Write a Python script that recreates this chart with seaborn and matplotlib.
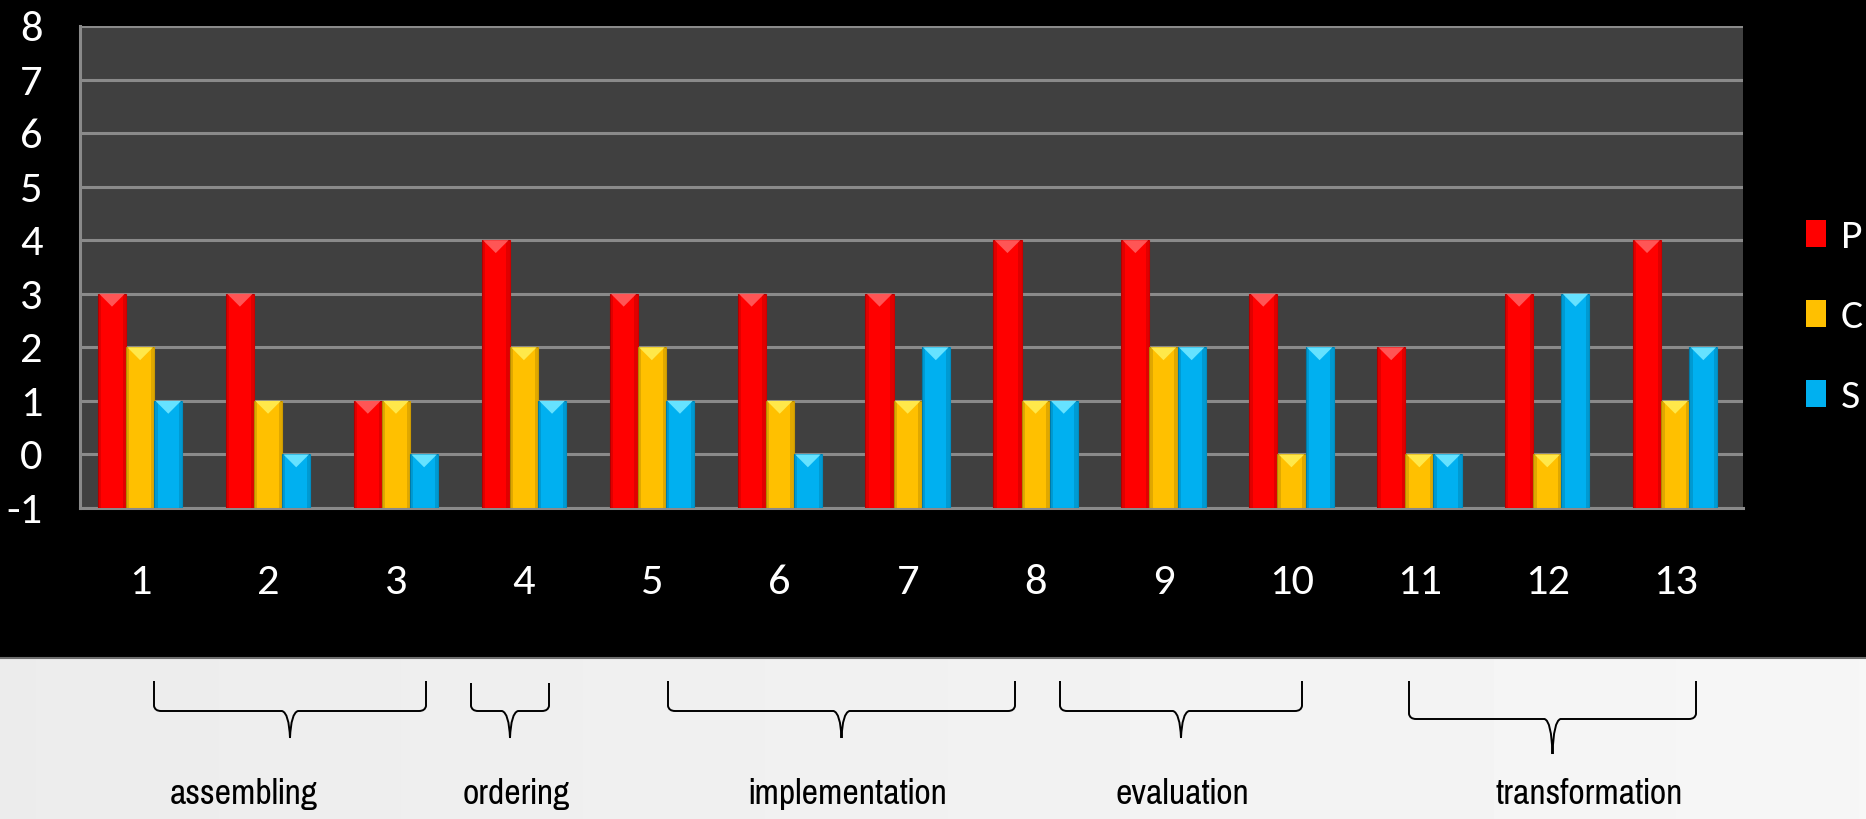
import matplotlib
matplotlib.use("Agg")
import matplotlib.pyplot as plt
from matplotlib.patches import Polygon, Patch, PathPatch, Rectangle
from matplotlib.path import Path
from matplotlib.lines import Line2D
import matplotlib.colors as mcolors
import seaborn as sns
import pandas as pd
import numpy as np
import logging

logging.getLogger("matplotlib.font_manager").setLevel(logging.ERROR)

# Item numbers and scores per series
items = ["1", "2", "3", "4", "5", "6", "7", "8", "9", "10", "11", "12", "13"]
p_scores = [3, 3, 1, 4, 3, 3, 3, 4, 4, 3, 2, 3, 4]
c_scores = [2, 1, 1, 2, 2, 1, 1, 1, 2, 0, 0, 0, 1]
s_scores = [1, 0, 0, 1, 1, 0, 2, 1, 2, 2, 0, 3, 2]
series_names = ["P", "C", "S"]
y_ticks = [-1, 0, 1, 2, 3, 4, 5, 6, 7, 8]

# Groups of items marked with braces under the chart
group_names = ["assembling", "ordering", "implementation", "evaluation", "transformation"]

colors = {"P": "#FF0000", "C": "#FFC000", "S": "#00B0F0"}
highlight = {"P": "#FF5555", "C": "#FFE84A", "S": "#66E2FF"}

df = pd.DataFrame({
    "item": items * 3,
    "series": ["P"] * 13 + ["C"] * 13 + ["S"] * 13,
    "score": p_scores + c_scores + s_scores,
})

sns.set_style("dark")
plt.rcParams["font.family"] = ["Carlito", "Lato", "DejaVu Sans"]
narrow = ["Pragati Narrow", "Archivo Narrow", "Roboto Condensed", "PT Sans Narrow", "DejaVu Sans"]

W, H = 1866, 819
fig = plt.figure(figsize=(W / 100, H / 100), dpi=100)
fig.patch.set_facecolor("black")


def fx(px):
    return px / W


def fy(py):
    return 1 - py / H


# light panel holding the group braces, brightening slightly to the right
bg = fig.add_axes([0, 0, 1, fy(658)], zorder=0)
grad = np.linspace(0.925, 0.965, 256).reshape(1, -1)
bg.imshow(grad, cmap="gray", vmin=0, vmax=1, aspect="auto", extent=(0, 1, 0, 1))
bg.set_axis_off()
fig.add_artist(Line2D([0, 1], [fy(658), fy(658)], transform=fig.transFigure,
                      color="#6E6E6E", lw=1.5, zorder=1))

ax = fig.add_axes([fx(80), fy(508), fx(1743) - fx(80), fy(26) - fy(508)], zorder=2)
ax.set_facecolor("#404040")

sns.barplot(data=df, x="item", y="score", hue="series", hue_order=series_names,
            palette=colors, width=0.66, legend=False, ax=ax, zorder=3,
            saturation=1)

ax.set_ylim(-1, 8)
ax.set_xlim(-0.47, 12.53)

# bars rise from the axis floor at -1, shaded at the sides and topped with a bevel
order = []
for name in series_names:
    order += [name] * len(items)
for patch, name in zip(list(ax.patches), order):
    h = patch.get_height()
    x0 = patch.get_x()
    w = patch.get_width()
    patch.set_y(-1)
    patch.set_height(h + 1)
    top = h
    base = mcolors.to_rgb(colors[name])
    patch.set_edgecolor(mcolors.to_hex([c * 0.8 for c in base]))
    patch.set_linewidth(0.8)
    for sx in (x0, x0 + w * 0.88):
        ax.add_patch(Rectangle((sx, -1), w * 0.12, h + 1, facecolor="black",
                               alpha=0.12, edgecolor="none", zorder=3.5))
    tri = Polygon([(x0 + 0.01, top), (x0 + w - 0.01, top), (x0 + w / 2, top - 0.24)],
                  closed=True, facecolor=highlight[name], edgecolor="none", zorder=4)
    ax.add_patch(tri)

ax.set_yticks(y_ticks)
ax.set_yticklabels([str(t) for t in y_ticks])
ax.grid(axis="y", color="#8A8A8A", lw=2.2, zorder=1)
ax.grid(axis="x", visible=False)
for side in ["top", "right"]:
    ax.spines[side].set_visible(False)
for side in ["left", "bottom"]:
    ax.spines[side].set_visible(True)
    ax.spines[side].set_color("#8A8A8A")
    ax.spines[side].set_linewidth(2.2)

ax.tick_params(axis="y", colors="white", labelsize=32, length=0, pad=27)
ax.tick_params(axis="x", colors="white", labelsize=32, length=0, pad=40)
for lab in ax.get_yticklabels():
    lab.set_horizontalalignment("right")
ax.set_xlabel("")
ax.set_ylabel("")

handles = [Patch(facecolor=colors[n], edgecolor="none") for n in series_names]
leg = fig.legend(handles, series_names, loc="center left",
                 bbox_to_anchor=(fx(1806), fy(317)), frameon=False, borderpad=0,
                 borderaxespad=0, fontsize=30, labelcolor="white", handlelength=0.48,
                 handleheight=0.62, handletextpad=0.35, labelspacing=1.05)

# braces under the chart: (left, right, top, flat line, tip) in pixels
braces = [
    (154, 426, 681, 711, 738),
    (471, 549, 683, 711, 738),
    (668, 1015, 681, 711, 738),
    (1060, 1302, 681, 711, 738),
    (1409, 1696, 681, 719, 754),
]
label_x = [244, 516, 848, 1182, 1589]

for (x0, x1, yt, ym, ytip), name, lx in zip(braces, group_names, label_x):
    xm = (x0 + x1) / 2
    r = 5
    verts = [
        (x0, yt), (x0, ym - r), (x0 + 1, ym), (x0 + r + 2, ym),
        (xm - 8, ym), (xm - 1, ym + 2), (xm, ytip),
        (xm, ytip), (xm + 1, ym + 2), (xm + 8, ym),
        (x1 - r - 2, ym), (x1 - 1, ym), (x1, ym - r), (x1, yt),
    ]
    codes = [Path.MOVETO, Path.LINETO, Path.CURVE3, Path.CURVE3,
             Path.LINETO, Path.CURVE3, Path.CURVE3,
             Path.MOVETO, Path.CURVE3, Path.CURVE3,
             Path.LINETO, Path.CURVE3, Path.CURVE3, Path.LINETO]
    path = Path([(fx(x), fy(y)) for x, y in verts], codes)
    fig.add_artist(PathPatch(path, transform=fig.transFigure, facecolor="none",
                             edgecolor="black", lw=1.4, zorder=5))
    fig.text(fx(lx), fy(794), name, ha="center", va="center", fontsize=28,
             color="black", family=narrow, zorder=5)

fig.savefig("out.png", dpi=100, facecolor=fig.get_facecolor())
